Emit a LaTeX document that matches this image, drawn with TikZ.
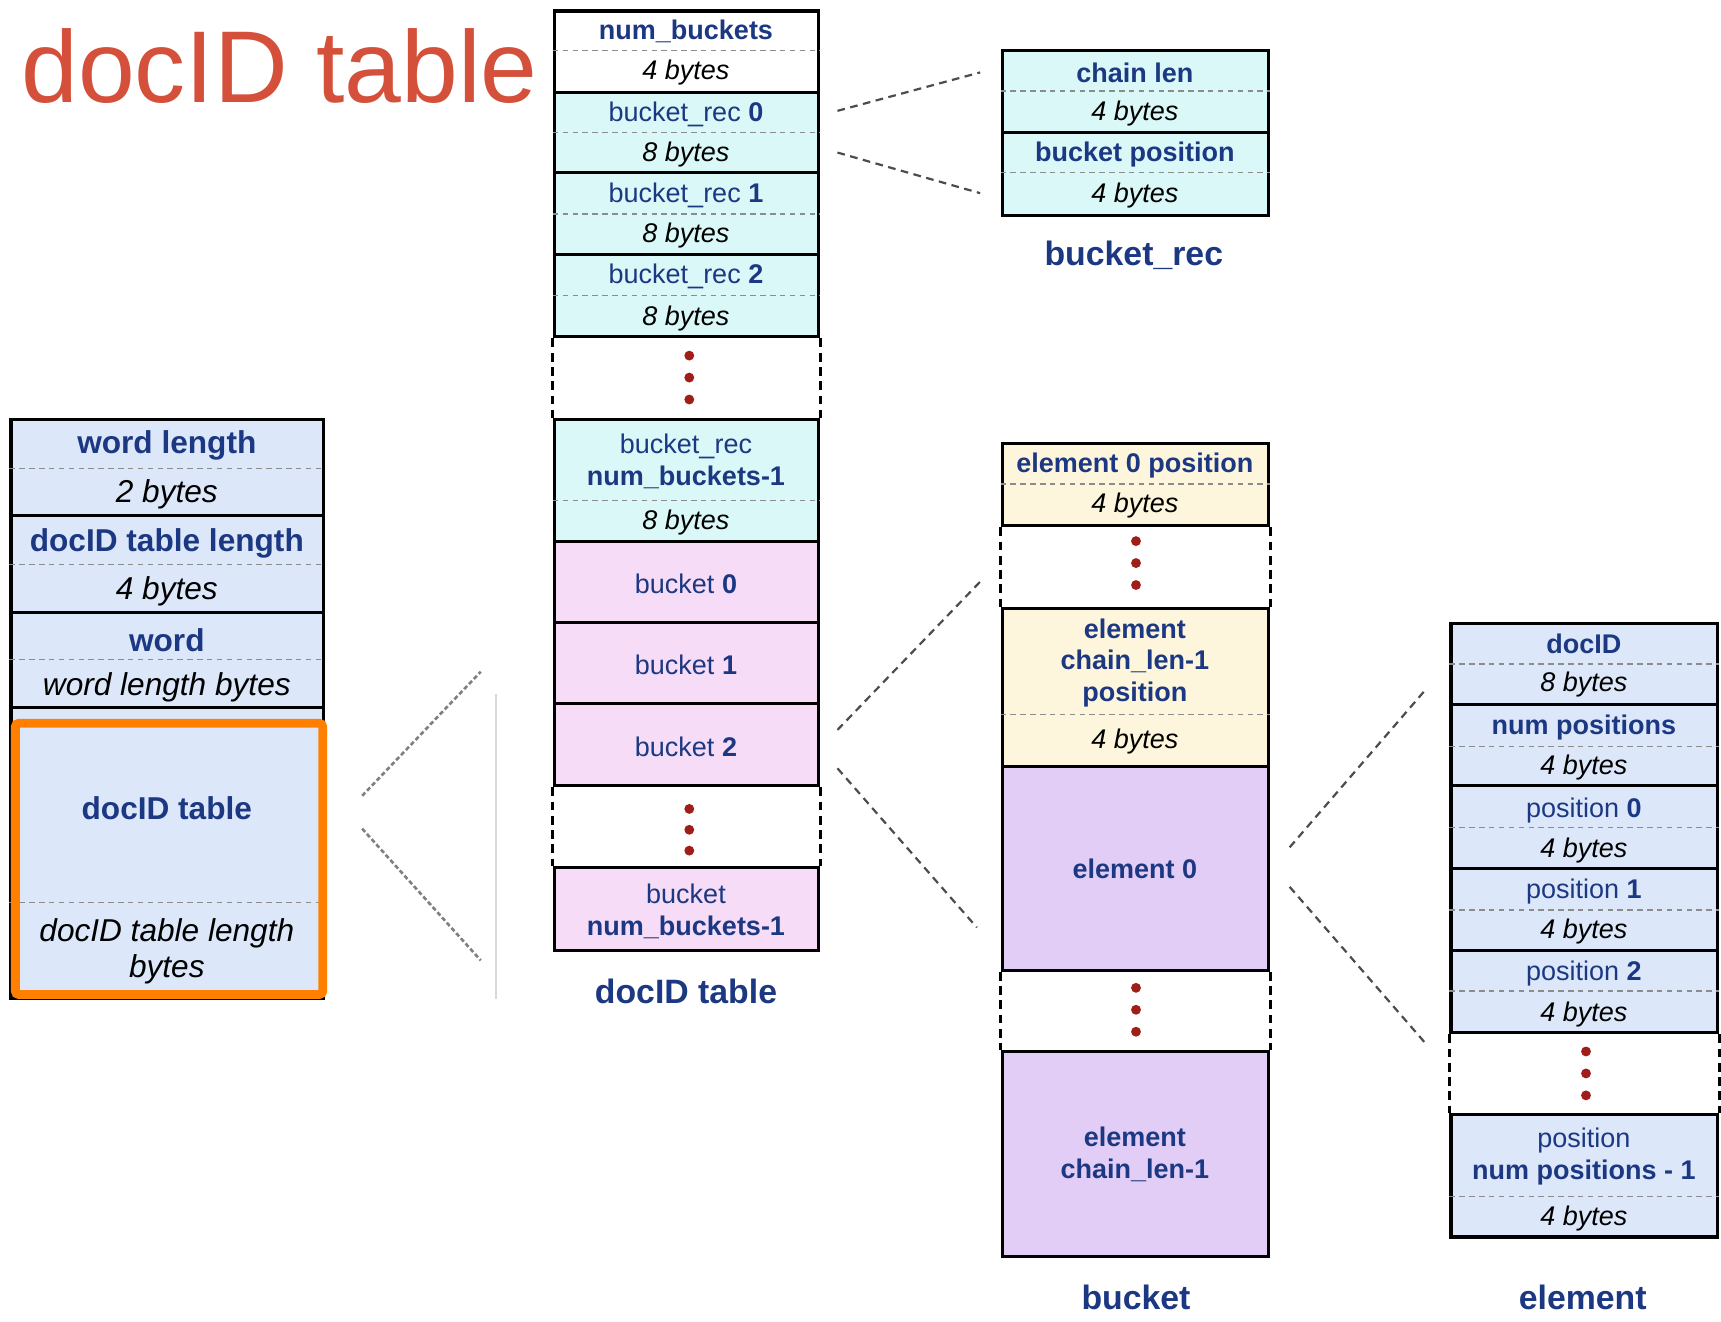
\documentclass[tikz,border=0pt]{standalone}
\usepackage{fontspec}
\setmainfont{Liberation Sans}
\usetikzlibrary{fit}

\definecolor{navy}{RGB}{28,56,130}
\definecolor{headred}{RGB}{212,80,58}
\definecolor{hilite}{RGB}{255,128,0}
\definecolor{dotred}{RGB}{160,30,25}
\definecolor{wordbg}{RGB}{220,232,250}
\definecolor{recbg}{RGB}{218,248,248}
\definecolor{bktbg}{RGB}{246,220,246}
\definecolor{posbg}{RGB}{253,246,220}
\definecolor{elbg}{RGB}{226,205,246}

\newcommand{\cellsize}{\fontsize{12.3}{14.5}\selectfont}
\newcommand{\widecellsize}{\fontsize{14.4}{16.5}\selectfont}
\newcommand{\captionsize}{\fontsize{15.4}{18}\selectfont}

\begin{document}
\begin{tikzpicture}[x=0.5pt, y=-0.5pt,
  cell/.style = {draw, line width=1.4pt, inner sep=0pt},
  split/.style = {draw=black!45, line width=0.6pt, dash pattern=on 2.5pt off 2pt},
  gap/.style = {draw, line width=1.2pt, dash pattern=on 4pt off 2.5pt},
  fname/.style = {text=navy, font=\cellsize, align=center, inner sep=0pt, yshift=-1pt},
  bytes/.style = {font=\cellsize\itshape, inner sep=0pt, yshift=-1pt},
  wname/.style = {fname, font=\widecellsize},
  wbytes/.style = {bytes, font=\widecellsize\itshape, align=center},
  caption/.style = {text=navy, font=\captionsize\bfseries, inner sep=0pt},
  link/.style = {draw=black!70, line width=1pt, dash pattern=on 3.5pt off 2.5pt},
  faint/.style = {draw=black!50, line width=1.2pt, dash pattern=on 2pt off 1.2pt},
  dot/.style = {circle, fill=dotred, inner sep=0pt, minimum size=4.5pt}]
\useasboundingbox (0,0) rectangle (1568,1204);

% title
\node[text=headred, font=\fontsize{46.5}{50}\selectfont, anchor=base west, inner sep=0pt]
  (head) at (19,93) {docID table};

% file header
\node[cell, fill=wordbg, fit={(10,382) (295,470)}] (wlen) {};
\draw[split] (wlen.west |- 0,427) -- (wlen.east |- 0,427);
\node[wname] at (152,404) {\textbf{word length}};
\node[wbytes] at (152,448) {2 bytes};
\node[cell, fill=wordbg, fit={(10,470) (295,558)}] (dlen) {};
\draw[split] (dlen.west |- 0,514) -- (dlen.east |- 0,514);
\node[wname] at (152,493) {\textbf{docID table length}};
\node[wbytes] at (152,537) {4 bytes};
\node[cell, fill=wordbg, fit={(10,558) (295,645)}] (word) {};
\draw[split] (word.west |- 0,601) -- (word.east |- 0,601);
\node[wname] at (152,581) {\textbf{word}};
\node[wbytes] at (152,624) {word length bytes};
\node[cell, fill=wordbg, fit={(10,645) (295,910)}] (dtab) {};
\draw[split] (dtab.west |- 0,822) -- (dtab.east |- 0,822);
\node[wname] at (152,734) {\textbf{docID table}};
\node[wbytes] at (152,865) {docID table length\\bytes};
\node[draw=hilite, line width=4pt, rounded corners=1.5pt, inner sep=0pt,
  fit={(14,659) (294,906)}] (focus) {};

% funnel to docID table
\coordinate (fa) at (330,725);
\coordinate (fb) at (438,612);
\coordinate (fc) at (330,755);
\coordinate (fd) at (438,875);
\draw[faint] (fa) -- (fb);
\draw[faint] (fc) -- (fd);
\coordinate (va) at (452,632);
\coordinate (vb) at (452,910);
\draw[black!15, line width=1pt] (va) -- (vb);

% docID table
\node[cell, fill=white, fit={(505,10) (746,84)}] (nb) {};
\draw[split] (nb.west |- 0,46) -- (nb.east |- 0,46);
\node[fname] at (625,27) {\textbf{num\_buckets}};
\node[bytes] at (625,64) {4 bytes};
\node[cell, fill=recbg, fit={(505,84) (746,157)}] (rec0) {};
\draw[split] (rec0.west |- 0,121) -- (rec0.east |- 0,121);
\node[fname] at (625,102) {bucket\_rec \textbf{0}};
\node[bytes] at (625,139) {8 bytes};
\node[cell, fill=recbg, fit={(505,157) (746,232)}] (rec1) {};
\draw[split] (rec1.west |- 0,195) -- (rec1.east |- 0,195);
\node[fname] at (625,176) {bucket\_rec \textbf{1}};
\node[bytes] at (625,213) {8 bytes};
\node[cell, fill=recbg, fit={(505,232) (746,307)}] (rec2) {};
\draw[split] (rec2.west |- 0,269) -- (rec2.east |- 0,269);
\node[fname] at (625,250) {bucket\_rec \textbf{2}};
\node[bytes] at (625,288) {8 bytes};
\node[cell, fill=recbg, fit={(505,382) (746,493)}] (recn) {};
\draw[split] (recn.west |- 0,456) -- (recn.east |- 0,456);
\node[fname] at (625,418) {bucket\_rec\\\textbf{num\_buckets-1}};
\node[bytes] at (625,474) {8 bytes};
\draw[gap] (rec2.south west) -- (recn.north west);
\draw[gap] (rec2.south east) -- (recn.north east);
\node[dot] at (628,324) {};
\node[dot] at (628,344) {};
\node[dot] at (628,364) {};
\node[cell, fill=bktbg, fit={(505,493) (746,567)}] (bkt0) {};
\node[fname] at (625,530) {bucket \textbf{0}};
\node[cell, fill=bktbg, fit={(505,567) (746,641)}] (bkt1) {};
\node[fname] at (625,604) {bucket \textbf{1}};
\node[cell, fill=bktbg, fit={(505,641) (746,716)}] (bkt2) {};
\node[fname] at (625,678) {bucket \textbf{2}};
\node[cell, fill=bktbg, fit={(505,790) (746,866)}] (bktn) {};
\node[fname] at (625,828) {bucket\\\textbf{num\_buckets-1}};
\draw[gap] (bkt2.south west) -- (bktn.north west);
\draw[gap] (bkt2.south east) -- (bktn.north east);
\node[dot] at (628,737) {};
\node[dot] at (628,756) {};
\node[dot] at (628,775) {};
\node[caption] at (625,903) {docID table};

% bucket_rec
\node[cell, fill=recbg, fit={(913,46) (1156,121)}] (clen) {};
\draw[split] (clen.west |- 0,83) -- (clen.east |- 0,83);
\node[fname] at (1034,64) {\textbf{chain len}};
\node[bytes] at (1034,101) {4 bytes};
\node[cell, fill=recbg, fit={(913,121) (1156,196)}] (bpos) {};
\draw[split] (bpos.west |- 0,157) -- (bpos.east |- 0,157);
\node[fname] at (1034,139) {\textbf{bucket position}};
\node[bytes] at (1034,176) {4 bytes};
\node[caption] at (1033,233) {bucket\_rec};

\coordinate (ra) at (763,101);
\coordinate (rb) at (893,66);
\coordinate (rc) at (763,139);
\coordinate (rd) at (893,176);
\draw[link] (ra) -- (rb);
\draw[link] (rc) -- (rd);

% bucket
\node[cell, fill=posbg, fit={(913,404) (1156,479)}] (epos0) {};
\draw[split] (epos0.west |- 0,441) -- (epos0.east |- 0,441);
\node[fname] at (1034,422) {\textbf{element 0 position}};
\node[bytes] at (1034,459) {4 bytes};
\node[cell, fill=posbg, fit={(913,554) (1156,698)}] (eposn) {};
\draw[split] (eposn.west |- 0,651) -- (eposn.east |- 0,651);
\node[fname] at (1034,602) {\textbf{element}\\\textbf{chain\_len-1}\\\textbf{position}};
\node[bytes] at (1034,674) {4 bytes};
\draw[gap] (epos0.south west) -- (eposn.north west);
\draw[gap] (epos0.south east) -- (eposn.north east);
\node[dot] at (1035,493) {};
\node[dot] at (1035,513) {};
\node[dot] at (1035,533) {};
\node[cell, fill=elbg, fit={(913,698) (1156,884)}] (elem0) {};
\node[fname] at (1034,790) {\textbf{element 0}};
\node[cell, fill=elbg, fit={(913,958) (1156,1145)}] (elemn) {};
\node[fname] at (1034,1050) {\textbf{element}\\\textbf{chain\_len-1}};
\draw[gap] (elem0.south west) -- (elemn.north west);
\draw[gap] (elem0.south east) -- (elemn.north east);
\node[dot] at (1035,900) {};
\node[dot] at (1035,920) {};
\node[dot] at (1035,940) {};
\node[caption] at (1035,1182) {bucket};

\coordinate (ba) at (763,665);
\coordinate (bb) at (893,530);
\coordinate (bc) at (763,700);
\coordinate (bd) at (890,845);
\draw[link] (ba) -- (bb);
\draw[link] (bc) -- (bd);

% element
\node[cell, fill=wordbg, fit={(1322,568) (1565,642)}] (did) {};
\draw[split] (did.west |- 0,605) -- (did.east |- 0,605);
\node[fname] at (1443,585) {\textbf{docID}};
\node[bytes] at (1443,622) {8 bytes};
\node[cell, fill=wordbg, fit={(1322,642) (1565,716)}] (npos) {};
\draw[split] (npos.west |- 0,680) -- (npos.east |- 0,680);
\node[fname] at (1443,661) {\textbf{num positions}};
\node[bytes] at (1443,697) {4 bytes};
\node[cell, fill=wordbg, fit={(1322,716) (1565,791)}] (pos0) {};
\draw[split] (pos0.west |- 0,754) -- (pos0.east |- 0,754);
\node[fname] at (1443,736) {position \textbf{0}};
\node[bytes] at (1443,773) {4 bytes};
\node[cell, fill=wordbg, fit={(1322,791) (1565,866)}] (pos1) {};
\draw[split] (pos1.west |- 0,829) -- (pos1.east |- 0,829);
\node[fname] at (1443,810) {position \textbf{1}};
\node[bytes] at (1443,847) {4 bytes};
\node[cell, fill=wordbg, fit={(1322,866) (1565,941)}] (pos2) {};
\draw[split] (pos2.west |- 0,903) -- (pos2.east |- 0,903);
\node[fname] at (1443,885) {position \textbf{2}};
\node[bytes] at (1443,922) {4 bytes};
\node[cell, fill=wordbg, fit={(1322,1015) (1565,1127)}] (posn) {};
\draw[split] (posn.west |- 0,1090) -- (posn.east |- 0,1090);
\node[fname] at (1443,1052) {position\\\textbf{num positions - 1}};
\node[bytes] at (1443,1108) {4 bytes};
\draw[gap] (pos2.south west) -- (posn.north west);
\draw[gap] (pos2.south east) -- (posn.north east);
\node[dot] at (1445,958) {};
\node[dot] at (1445,978) {};
\node[dot] at (1445,998) {};
\node[caption] at (1442,1182) {element};

\coordinate (ea) at (1175,772);
\coordinate (eb) at (1300,627);
\coordinate (ec) at (1175,808);
\coordinate (ed) at (1300,952);
\draw[link] (ea) -- (eb);
\draw[link] (ec) -- (ed);
\end{tikzpicture}
\end{document}
